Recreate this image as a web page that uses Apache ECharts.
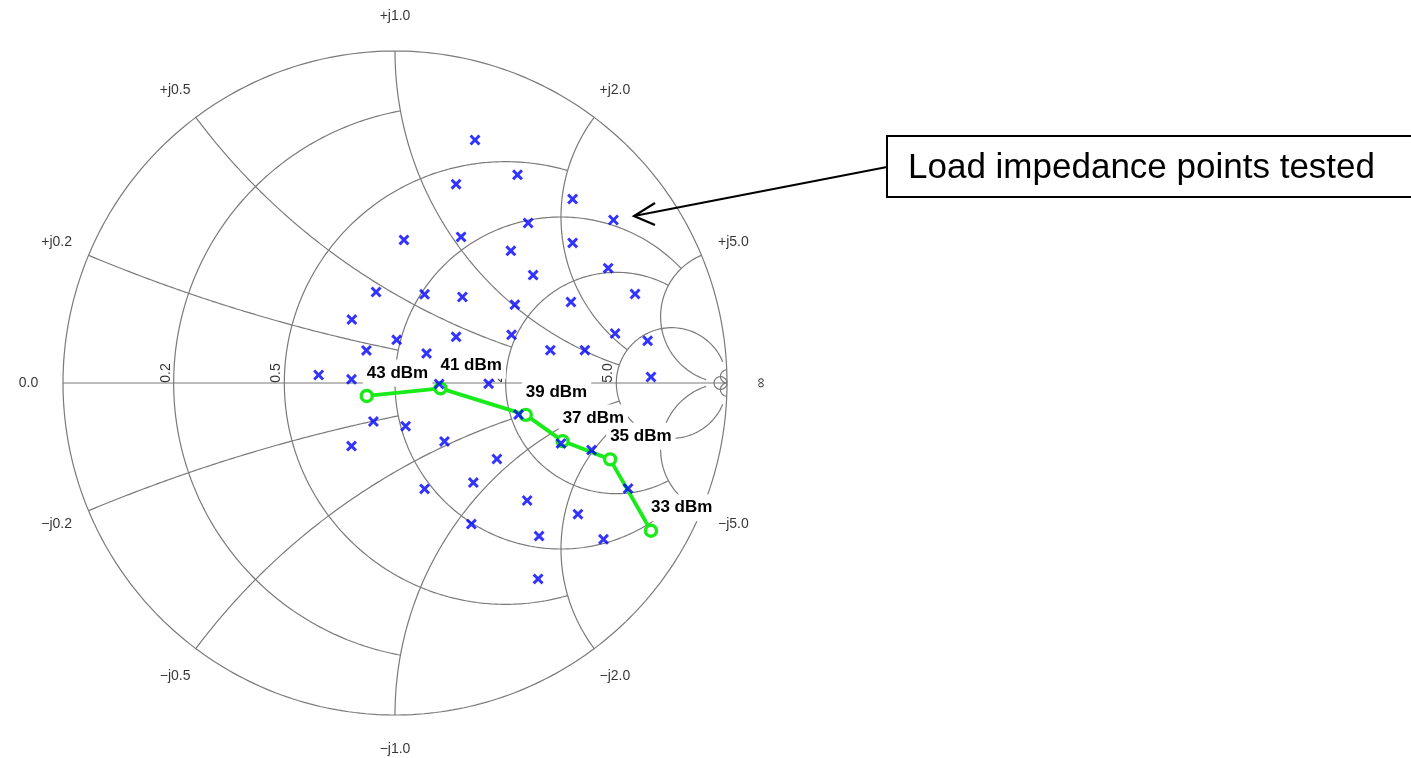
<!DOCTYPE html>
<html><head><meta charset="utf-8">
<script src="https://cdn.jsdelivr.net/npm/echarts@6/dist/echarts.min.js"></script>
<style>html,body{margin:0;padding:0;background:#fff;}#c{width:1411px;height:758px;}</style>
</head><body><div id="c"></div>
<script>
// Smith chart grid definition: circle value and the limit where it is truncated
const gridValues = [0.2, 0.5, 1, 2, 5, 50];
const gridLimits = [1, 2, 5, 5, 30, Infinity];
// tick labels
const reactanceTicks = [0.2, 0.5, 1, 2, 5];
const reactanceUpperLabels = ['+j0.2', '+j0.5', '+j1.0', '+j2.0', '+j5.0'];
const reactanceLowerLabels = ['\u2212j0.2', '\u2212j0.5', '\u2212j1.0', '\u2212j2.0', '\u2212j5.0'];
const resistanceTicks = [0.2, 0.5, 1, 2, 5];
const resistanceLabels = ['0.2', '0.5', '1.0', '2.0', '5.0'];
const edgeLabels = ['0.0', '\u221e'];
// tested load impedance points (reflection coefficient, real / imaginary)
const loadRe = [0.241,0.184,0.369,0.535,0.658,0.401,0.027,0.199,0.349,0.535,0.642,0.416,-0.057,0.089,0.203,0.361,0.530,0.723,-0.130,0.005,0.184,0.351,0.663,-0.086,0.095,0.468,0.572,0.761,-0.230,-0.131,0.133,0.282,0.771,0.372,-0.065,0.032,-0.131,0.149,0.500,0.592,0.307,0.236,0.089,0.702,0.398,0.551,0.230,0.434,0.628,0.431];
const loadIm = [0.732,0.599,0.627,0.554,0.491,0.482,0.431,0.440,0.398,0.422,0.346,0.325,0.274,0.267,0.259,0.236,0.244,0.268,0.191,0.130,0.139,0.145,0.149,0.098,0.089,0.099,0.099,0.127,0.024,0.011,-0.003,-0.002,0.018,-0.095,-0.116,-0.130,-0.190,-0.176,-0.182,-0.202,-0.229,-0.300,-0.319,-0.318,-0.354,-0.395,-0.425,-0.461,-0.471,-0.590];
// optimum load trajectory vs output power
const sweepRe = [-0.085, 0.137, 0.394, 0.505, 0.648, 0.771];
const sweepIm = [-0.039, -0.016, -0.096, -0.175, -0.230, -0.445];
const sweepPower = [43, 41, 39, 37, 35, 33];
const annotationText = 'Load impedance points tested';

const FONT = '"Liberation Sans", Arial, Helvetica, sans-serif';
const GRID_COLOR = '#7a7a7a';
const GREEN = '#19ea19';
const LABEL_R = 1.104;

function gamma(r, x) {
  const d = (r + 1) * (r + 1) + x * x;
  return [(r * r + x * x - 1) / d, 2 * x / d];
}
function rCircle(r, lim) {
  const c = r / (1 + r), rho = 1 / (1 + r);
  let t0 = 0;
  if (isFinite(lim)) { const g = gamma(r, lim); t0 = Math.atan2(g[1], g[0] - c); }
  const pts = [], N = 360;
  for (let i = 0; i <= N; i++) {
    const t = t0 + (2 * Math.PI - 2 * t0) * i / N;
    pts.push([c + rho * Math.cos(t), rho * Math.sin(t)]);
  }
  return pts;
}
function xArc(x, lim) {
  const cy = 1 / x, rho = 1 / x;
  const norm = a => (a < 0 ? a + 2 * Math.PI : a);
  const g0 = gamma(0, x);
  const a0 = norm(Math.atan2(g0[1] - cy, g0[0] - 1));
  const g1 = isFinite(lim) ? gamma(lim, x) : [1, 0];
  const a1 = norm(Math.atan2(g1[1] - cy, g1[0] - 1));
  const pts = [], N = 240;
  for (let i = 0; i <= N; i++) {
    const a = a0 + (a1 - a0) * i / N;
    pts.push([1 + rho * Math.cos(a), cy + rho * Math.sin(a)]);
  }
  return pts;
}
const mirror = pts => pts.map(p => [p[0], -p[1]]);

const series = [];
function gridLine(data) {
  series.push({
    type: 'line', data: data, showSymbol: false, symbol: 'none', silent: true,
    clip: false, animation: false, z: 2,
    lineStyle: { color: GRID_COLOR, width: 1.2 }
  });
}
gridLine(rCircle(0, Infinity));
gridLine([[-1, 0], [1, 0]]);
gridValues.forEach((v, i) => {
  const lim = gridLimits[i];
  gridLine(rCircle(v, lim));
  const arc = xArc(v, lim);
  gridLine(arc);
  gridLine(mirror(arc));
});

// axis labels
const tickData = [];
reactanceTicks.forEach((x, i) => {
  const g = gamma(0, x);
  tickData.push({ value: [g[0] * LABEL_R, g[1] * LABEL_R], name: reactanceUpperLabels[i] });
  tickData.push({ value: [g[0] * LABEL_R, -g[1] * LABEL_R], name: reactanceLowerLabels[i] });
});
tickData.push({ value: [-LABEL_R, 0], name: edgeLabels[0] });
tickData.push({ value: [LABEL_R, 0], name: edgeLabels[1], label: { rotate: 90 } });
series.push({
  type: 'scatter', data: tickData, symbolSize: 1, silent: true, clip: false, animation: false, z: 2,
  itemStyle: { color: 'rgba(0,0,0,0)' },
  label: { show: true, position: 'inside', formatter: p => p.name, color: '#000', fontSize: 14, fontFamily: FONT }
});
series.push({
  type: 'scatter',
  data: resistanceTicks.map((r, i) => ({ value: [gamma(r, 0)[0], 0], name: resistanceLabels[i] })),
  symbolSize: 1, silent: true, clip: false, animation: false, z: 2,
  itemStyle: { color: 'rgba(0,0,0,0)' },
  label: { show: true, position: 'inside', rotate: 90, offset: [10, -8], formatter: p => p.name,
           color: '#000', fontSize: 14, fontFamily: FONT }
});

// power sweep trajectory
series.push({
  type: 'line', data: sweepRe.map((v, i) => [v, sweepIm[i]]), clip: false, animation: false, z: 4,
  symbol: 'circle', symbolSize: 11, showSymbol: true,
  lineStyle: { color: GREEN, width: 3.8 },
  itemStyle: { color: '#fff', borderColor: GREEN, borderWidth: 3.4 },
  label: {
    show: true, position: 'inside', align: 'left', verticalAlign: 'middle', offset: [-4, -23],
    formatter: p => sweepPower[p.dataIndex] + ' dBm',
    color: '#000', fontWeight: 'bold', fontSize: 17, fontFamily: FONT,
    backgroundColor: '#fff', padding: [5, 4]
  }
});

// tested points
series.push({
  type: 'scatter', data: loadRe.map((v, i) => [v, loadIm[i]]), clip: false, animation: false, z: 5,
  symbol: 'path://M0,1.9L1.9,0L5,3.1L8.1,0L10,1.9L6.9,5L10,8.1L8.1,10L5,6.9L1.9,10L0,8.1L3.1,5Z',
  symbolSize: 11,
  itemStyle: { color: '#0000ff' }
});

const chart = echarts.init(document.getElementById('c'), null, { renderer: 'canvas' });
chart.setOption({
  animation: false,
  backgroundColor: '#fff',
  textStyle: { fontFamily: FONT },
  grid: { left: 63, top: 51, width: 664, height: 664, show: false },
  xAxis: { type: 'value', min: -1, max: 1, show: false },
  yAxis: { type: 'value', min: -1, max: 1, show: false },
  series: series,
  graphic: [
    { type: 'polyline', shape: { points: [[887, 167], [634, 216]] }, style: { stroke: '#000', lineWidth: 2.2, fill: null }, z: 10 },
    { type: 'polyline', shape: { points: [[655, 203], [634, 216], [655, 225]] }, style: { stroke: '#000', lineWidth: 2.2, fill: null }, z: 10 },
    { type: 'rect', shape: { x: 887, y: 136, width: 540, height: 61 }, style: { fill: '#fff', stroke: '#000', lineWidth: 2 }, z: 10 },
    { type: 'text', x: 908, y: 168, style: { text: annotationText, font: '35px ' + FONT, fill: '#000', verticalAlign: 'middle', align: 'left' }, z: 11 }
  ]
});
</script></body></html>
